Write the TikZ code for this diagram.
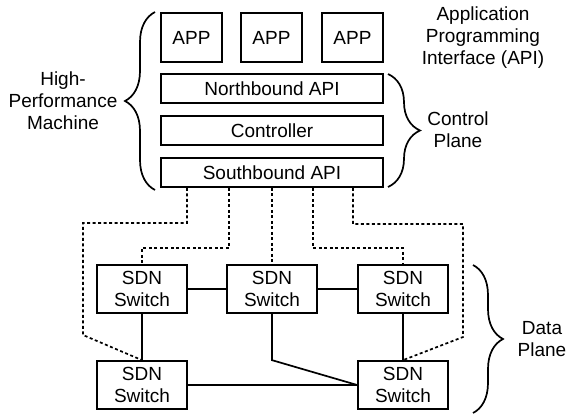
\documentclass[tikz,border=0pt]{standalone}
\usepackage{fontspec}
\setmainfont{Liberation Sans}
\usetikzlibrary{decorations.pathreplacing}
\begin{document}
\begin{tikzpicture}[x=1pt,y=-1pt,
  every node/.style={font=\fontsize{19}{22}\selectfont, inner sep=0pt},
  box/.style={draw, line width=1.7pt, align=center},
  appbox/.style={box, minimum width=61pt, minimum height=49pt},
  layer/.style={box, minimum width=222pt, minimum height=29pt},
  switchbox/.style={box, minimum width=90pt, minimum height=48pt},
  link/.style={line width=1.7pt},
  ctrl/.style={line width=1.7pt, dash pattern=on 3pt off 2.5pt},
  curly/.style={decorate, decoration={brace, amplitude=#1}, line width=1.7pt},
  sidetext/.style={align=center}]
\useasboundingbox (0,0) rectangle (568,415);

% control plane stack
\node[appbox] (app1) at (191.5,37.5) {APP};
\node[appbox] (app2) at (271.5,37.5) {APP};
\node[appbox] (app3) at (352.5,37.5) {APP};
\node[layer] (nb) at (272,88.5) {Northbound API};
\node[layer] (ctl) at (272,130.5) {Controller};
\node[layer] (sb) at (272,172.5) {Southbound API};

% switches
\node[switchbox] (sw1) at (142,289) {SDN\\Switch};
\node[switchbox] (sw2) at (272,289) {SDN\\Switch};
\node[switchbox] (sw3) at (403,289) {SDN\\Switch};
\node[switchbox] (bl) at (142,385) {SDN\\Switch};
\node[switchbox] (br) at (403,385) {SDN\\Switch};

% side labels
\node[sidetext] (hpm) at (63,101) {High-\\Performance\\Machine};
\node[sidetext] (api) at (483,37.5) {Application\\Programming\\Interface (API)};
\node[sidetext] (cp) at (458,130) {Control\\Plane};
\node[sidetext] (dp) at (542,339) {Data\\Plane};

% braces
\coordinate (lb1) at (155,190);
\coordinate (lb2) at (155,12);
\draw[curly=30pt] (lb1) -- (lb2);
\coordinate (rb1) at (388,74);
\coordinate (rb2) at (388,187);
\draw[curly=32pt] (rb1) -- (rb2);
\coordinate (db1) at (473,265);
\coordinate (db2) at (473,413);
\draw[curly=30pt] (db1) -- (db2);

% control channels
\coordinate (t1) at (187,0);
\coordinate (t2) at (229,0);
\coordinate (t4) at (313,0);
\coordinate (t5) at (353,0);
\draw[ctrl] (sb.south -| t1) |- (83,223) -- (83,335) -- (bl.north);
\draw[ctrl] (sb.south -| t2) -- (229,248) -| (sw1.north);
\draw[ctrl] (sb.south -| sw2.north) -- (sw2.north);
\draw[ctrl] (sb.south -| t4) -- (313,248) -| (sw3.north);
\draw[ctrl] (sb.south -| t5) |- (463,224) -- (463,337) -- (br.north);

% data links
\draw[link] (sw1.east) -- (sw2.west);
\draw[link] (sw2.east) -- (sw3.west);
\draw[link] (sw1.south) -- (bl.north);
\draw[link] (sw3.south) -- (br.north);
\draw[link] (sw2.south) -- (sw2.south |- br.north) -- (br.west);
\draw[link] (bl.east) -- (br.west);
\end{tikzpicture}
\end{document}
